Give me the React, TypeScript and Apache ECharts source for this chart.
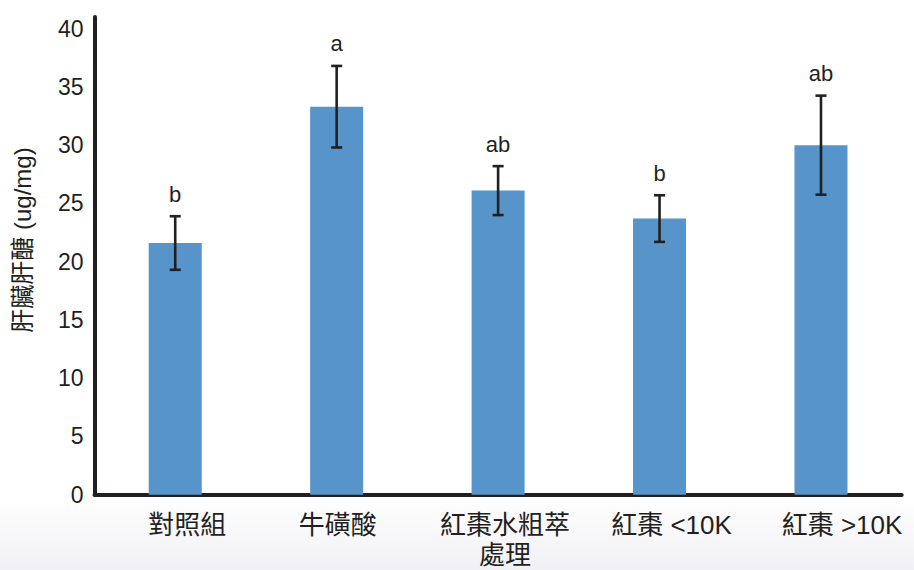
import React, { useEffect, useRef } from "react";
import * as echarts from "echarts";

const categories = ["對照組", "牛磺酸", "紅棗水粗萃\n處理", "紅棗 <10K", "紅棗 >10K"];
const means = [21.6, 33.3, 26.1, 23.7, 30.0];
const errors = [2.3, 3.5, 2.1, 2.0, 4.25];
const letters = ["b", "a", "ab", "b", "ab"];
const yTicks = [0, 5, 10, 15, 20, 25, 30, 35, 40];
const yName = "肝臟肝醣 (ug/mg)";

const labelShift = [12, 1, 7, 12, 21];
const FONT = "'Liberation Sans', 'Noto Sans CJK TC', sans-serif";
const INK = "#231f20";

export default function App() {
  const ref = useRef<HTMLDivElement>(null);
  useEffect(() => {
    document.body.style.margin = "0";
    const chart = echarts.init(ref.current!, null, { renderer: "svg" });
    const rich: Record<string, any> = {};
    labelShift.forEach((s, i) => {
      rich["c" + i] = {
        fontSize: 26,
        fontFamily: FONT,
        color: INK,
        lineHeight: 30,
        padding: [0, 0, 0, s * 2],
      };
    });
    const errData = means.map((m, i) => [i, m - errors[i], m + errors[i], letters[i]]);
    chart.setOption({
      animation: false,
      backgroundColor: "#ffffff",
      graphic: [
        {
          type: "rect",
          z: -10,
          shape: { x: 0, y: 497, width: 914, height: 73 },
          style: {
            fill: new echarts.graphic.LinearGradient(0, 0, 0, 1, [
              { offset: 0, color: "#ffffff" },
              { offset: 1, color: "#f1f0f4" },
            ]),
          },
          silent: true,
        },
        {
          type: "text",
          x: 22,
          y: 240,
          rotation: Math.PI / 2,
          style: {
            text: yName,
            fontSize: 24,
            fontFamily: FONT,
            fill: INK,
            align: "center",
            verticalAlign: "middle",
          },
        },
      ],
      grid: { left: 94.5, right: 12.3, top: 17, bottom: 75.3 },
      xAxis: {
        type: "category",
        data: categories,
        axisLine: { lineStyle: { color: INK, width: 4 } },
        axisTick: { show: false },
        axisLabel: {
          interval: 0,
          margin: 15,
          formatter: (v: string, i: number) =>
            v
              .split("\n")
              .map((line) => `{c${i}|${line}}`)
              .join("\n"),
          rich,
        },
      },
      yAxis: {
        type: "value",
        min: 0,
        max: 41,
        interval: 5,
        axisLine: { show: true, lineStyle: { color: INK, width: 4 } },
        axisTick: { show: false },
        splitLine: { show: false },
        axisLabel: {
          margin: 11,
          fontSize: 23,
          fontFamily: FONT,
          color: INK,
          formatter: (v: number) => (yTicks.includes(v) ? String(v) : ""),
        },
      },
      series: [
        {
          type: "bar",
          data: means,
          barWidth: 53,
          itemStyle: { color: "#5694c9" },
          z: 2,
        },
        {
          type: "custom",
          z: 3,
          data: errData,
          renderItem: (params: any, api: any) => {
            const x = api.value(0);
            const lo = api.coord([x, api.value(1)]);
            const hi = api.coord([x, api.value(2)]);
            const letter = letters[params.dataIndex];
            const hw = 5.5;
            const ls = { stroke: INK, lineWidth: 2.6 };
            return {
              type: "group",
              children: [
                { type: "line", shape: { x1: hi[0], y1: hi[1], x2: lo[0], y2: lo[1] }, style: ls },
                { type: "line", shape: { x1: hi[0] - hw, y1: hi[1], x2: hi[0] + hw, y2: hi[1] }, style: ls },
                { type: "line", shape: { x1: lo[0] - hw, y1: lo[1], x2: lo[0] + hw, y2: lo[1] }, style: ls },
                {
                  type: "text",
                  style: {
                    text: letter,
                    x: hi[0],
                    y: hi[1] - 11,
                    align: "center",
                    verticalAlign: "bottom",
                    fontSize: 22,
                    fontFamily: FONT,
                    fill: INK,
                  },
                },
              ],
            };
          },
        },
      ],
    });
    return () => chart.dispose();
  }, []);
  return <div ref={ref} style={{ width: 914, height: 570 }} />;
}
